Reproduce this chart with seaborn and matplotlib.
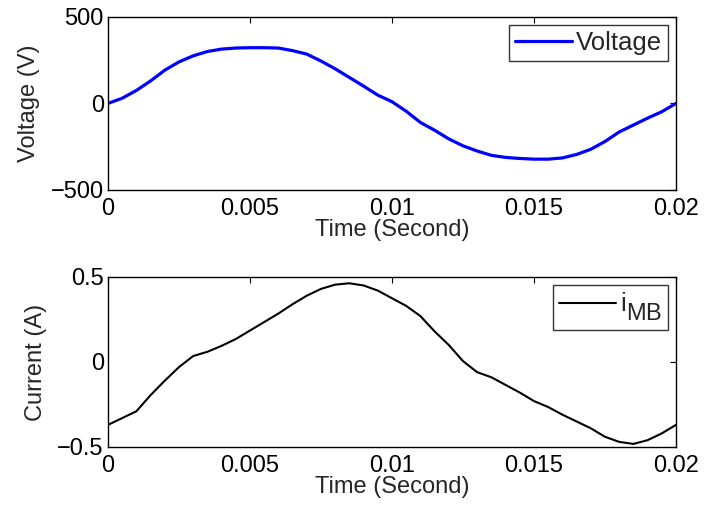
import numpy as np
import pandas as pd
import matplotlib
matplotlib.use("Agg")
import matplotlib.pyplot as plt
import seaborn as sns
from matplotlib.ticker import FuncFormatter
try:
    import matplotlib._mathtext as _mt
    _mt.SHRINK_FACTOR = 0.92
    _mt.FontConstantsBase.sub1 = 0.65
    _mt.FontConstantsBase.sub2 = 0.7
except Exception:
    pass

time_s = [0.0, 0.0005, 0.001, 0.0015, 0.002, 0.0025, 0.003, 0.0035, 0.004, 0.0045,
          0.005, 0.0055, 0.006, 0.0065, 0.007, 0.0075, 0.008, 0.0085, 0.009, 0.0095,
          0.01, 0.0105, 0.011, 0.0115, 0.012, 0.0125, 0.013, 0.0135, 0.014, 0.0145,
          0.015, 0.0155, 0.016, 0.0165, 0.017, 0.0175, 0.018, 0.0185, 0.019, 0.0195, 0.02]

voltage = [0, 30, 75, 130, 192, 240, 275, 300, 314, 320,
           322, 322, 320, 305, 285, 245, 200, 150, 100, 48,
           10, -45, -110, -155, -205, -245, -275, -300, -312, -318,
           -322, -322, -315, -295, -265, -220, -165, -125, -85, -48, 0]

current = [-0.37, -0.33, -0.29, -0.195, -0.11, -0.03, 0.035, 0.06, 0.095, 0.135,
           0.185, 0.235, 0.285, 0.34, 0.39, 0.43, 0.455, 0.463, 0.45, 0.42,
           0.375, 0.33, 0.27, 0.18, 0.10, 0.005, -0.06, -0.09, -0.135, -0.18,
           -0.23, -0.265, -0.31, -0.35, -0.39, -0.44, -0.47, -0.482, -0.46, -0.42, -0.37]

x_ticks = [0, 0.005, 0.01, 0.015, 0.02]
x_labels = ["0", "0.005", "0.01", "0.015", "0.02"]
v_ticks = [-500, 0, 500]
i_ticks = [-0.5, 0, 0.5]

sns.set_style("white")
plt.rcParams['font.family'] = ['Liberation Sans', 'DejaVu Sans']
plt.rcParams['mathtext.fontset'] = 'custom'
plt.rcParams['mathtext.rm'] = 'Liberation Sans'
plt.rcParams['mathtext.it'] = 'Liberation Sans'
plt.rcParams['font.size'] = 17

FS = 17
LFS = 18.5

df_v = pd.DataFrame({"t": time_s, "v": voltage})
df_i = pd.DataFrame({"t": time_s, "i": current})

fig = plt.figure(figsize=(7.04, 5.12), dpi=100)
ax1 = fig.add_axes([0.1534, 0.629, 0.8068, 0.338])
ax2 = fig.add_axes([0.1534, 0.127, 0.8068, 0.332])

sns.lineplot(data=df_v, x="t", y="v", ax=ax1, color="#0000ff", linewidth=2.3, label="Voltage")
sns.lineplot(data=df_i, x="t", y="i", ax=ax2, color="black", linewidth=1.5,
             label=r"i$_{\mathrm{MB}}$")

def fmt_num(v, pos):
    s = ("%g" % v)
    return s.replace("-", "\u2212")

for ax, yt in ((ax1, v_ticks), (ax2, i_ticks)):
    ax.set_xlim(0, 0.02)
    ax.set_ylim(yt[0], yt[-1])
    ax.set_xticks(x_ticks)
    ax.set_xticklabels(x_labels)
    ax.set_yticks(yt)
    ax.yaxis.set_major_formatter(FuncFormatter(fmt_num))
    ax.tick_params(direction="in", top=True, right=True, length=4, width=0.8,
                   labelsize=FS, colors="black")
    ax.tick_params(axis="x", pad=6)
    ax.tick_params(axis="y", pad=3)
    ax.set_xlabel("Time (Second)", fontsize=FS, labelpad=-1)
    for sp in ax.spines.values():
        sp.set_color("black")
        sp.set_linewidth(1.0)
    leg = ax.legend(loc="upper right", fontsize=LFS, frameon=True, fancybox=False,
                    handlelength=2.2, handletextpad=0.15, borderpad=0.25,
                    borderaxespad=0.3)
    leg.get_frame().set_edgecolor("black")
    leg.get_frame().set_linewidth(1.0)

ax1.set_ylabel("Voltage (V)", fontsize=FS)
ax2.set_ylabel("Current (A)", fontsize=FS)
ax1.yaxis.set_label_coords(-0.12, 0.5)
ax2.yaxis.set_label_coords(-0.107, 0.5)

fig.savefig("out.png", dpi=100)
